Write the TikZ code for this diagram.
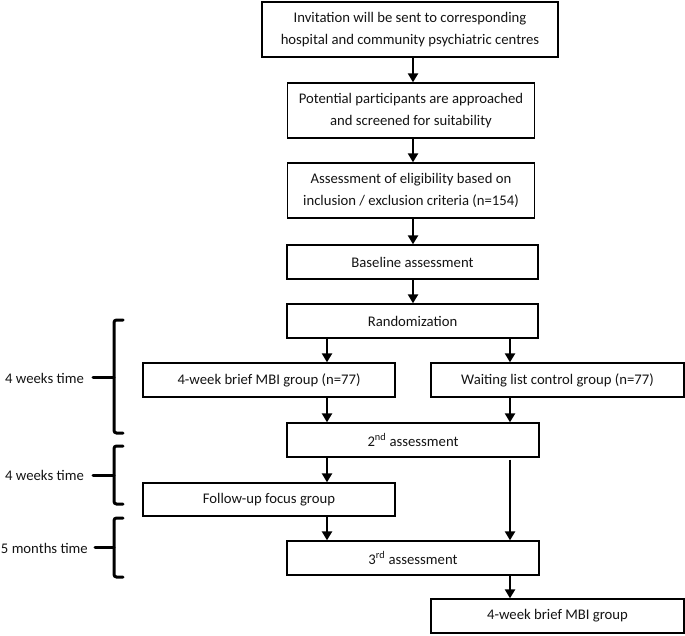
\documentclass[tikz,border=0pt]{standalone}
\usepackage{fontspec}
\setmainfont{Carlito}
\usetikzlibrary{arrows.meta}
\tikzset{
  box/.style={draw=black, line width=1.3pt, fill=white, inner sep=0pt, align=center,
    font=\fontsize{14.7}{22.5}\selectfont, text=black!92},
  arr/.style={line width=2.6pt, -{Triangle[length=9pt,width=10pt]}},
  brace/.style={line width=3pt, rounded corners=2.5pt, line cap=round},
  side/.style={font=\fontsize{14.7}{18}\selectfont, text=black!92, anchor=east, inner sep=0pt}
}
\begin{document}
\begin{tikzpicture}[x=1pt,y=-1pt]
\useasboundingbox (0,0) rectangle (685,636);
% boxes
\node[box, minimum width=296pt, minimum height=55pt] (b1) at (410,29.5)
  {Invitation will be sent to corresponding\\hospital and community psychiatric centres};
\node[box, minimum width=247pt, minimum height=55pt] (b2) at (411,110.5)
  {Potential participants are approached\\and screened for suitability};
\node[box, minimum width=247pt, minimum height=55pt] (b3) at (411,190.5)
  {Assessment of eligibility based on\\inclusion / exclusion criteria (n=154)};
\node[box, minimum width=251pt, minimum height=34pt] (base) at (412.5,262) {Baseline assessment};
\node[box, minimum width=251pt, minimum height=34pt] (rand) at (412.5,321) {Randomization};
\node[box, minimum width=252pt, minimum height=34pt] (mbi) at (269,380) {4-week brief MBI group (n=77)};
\node[box, minimum width=253pt, minimum height=34pt] (wait) at (557.5,380) {Waiting list control group (n=77)};
\node[box, minimum width=252pt, minimum height=34pt] (a2) at (413,440) {2\textsuperscript{nd} assessment};
\node[box, minimum width=252pt, minimum height=33pt] (fu) at (269,499.5) {Follow-up focus group};
\node[box, minimum width=252pt, minimum height=34pt] (a3) at (413,558) {3\textsuperscript{rd} assessment};
\node[box, minimum width=253pt, minimum height=34pt] (fin) at (557.5,616) {4-week brief MBI group};
% arrow columns
\coordinate (C) at (413,0);
\coordinate (L) at (327,0);
\coordinate (R) at (510,0);
\draw[arr] (b1.south -| C) -- (b2.north -| C);
\draw[arr] (b2.south -| C) -- (b3.north -| C);
\draw[arr] (b3.south -| C) -- (base.north -| C);
\draw[arr] (base.south -| C) -- (rand.north -| C);
\draw[arr] (rand.south -| L) -- (mbi.north -| L);
\draw[arr] (rand.south -| R) -- (wait.north -| R);
\draw[arr] (mbi.south -| L) -- (a2.north -| L);
\draw[arr] (wait.south -| R) -- (a2.north -| R);
\draw[arr] (a2.south -| L) -- (fu.north -| L);
\draw[arr] (fu.south -| L) -- (a3.north -| L);
\draw[arr] ([yshift=-2pt]a2.south -| R) -- (a3.north -| R);
\draw[arr] (a3.south -| R) -- (fin.north -| R);
% side labels
\node[side] (t1) at (84,378) {4 weeks time};
\node[side] (t2) at (84,475) {4 weeks time};
\node[side] (t3) at (88,548) {5 months time};
% braces
\draw[brace] (123,320) -- (114,320) -- (114,433) -- (123,433);
\draw[brace, rounded corners=0pt] (93,377) -- (114,377);
\draw[brace] (123,446) -- (114,446) -- (114,504) -- (123,504);
\draw[brace, rounded corners=0pt] (93,475) -- (114,475);
\draw[brace] (123,518) -- (114,518) -- (114,577) -- (123,577);
\draw[brace, rounded corners=0pt] (95,547) -- (114,547);
\end{tikzpicture}
\end{document}
